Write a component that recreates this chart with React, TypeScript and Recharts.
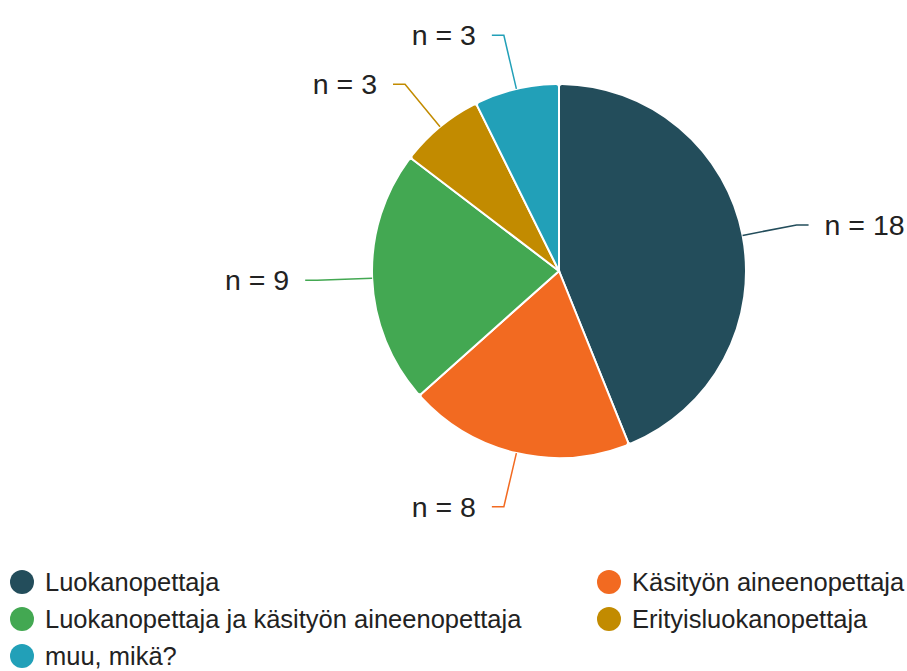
import { Legend, Pie, PieChart } from "recharts";

const categories = [
  "Luokanopettaja",
  "Käsityön aineenopettaja",
  "Luokanopettaja ja käsityön aineenopettaja",
  "Erityisluokanopettaja",
  "muu, mikä?",
];
const counts = [18, 8, 9, 3, 3];
const colors = ["#234d5b", "#f26a21", "#43a852", "#c28b00", "#22a0b8"];

const data = categories.map((name, i) => ({
  name,
  value: counts[i],
  fill: colors[i],
}));

const RAD = Math.PI / 180;

function renderLabel(props: any) {
  const { cx, cy, midAngle, outerRadius, value, index } = props;
  const cos = Math.cos(-midAngle * RAD);
  const sin = Math.sin(-midAngle * RAD);
  const sx = cx + outerRadius * cos;
  const sy = cy + outerRadius * sin;
  const mx = cx + (outerRadius + 55) * cos;
  const my = cy + (outerRadius + 55) * sin;
  const dir = cos >= 0 ? 1 : -1;
  const ex = mx + dir * 12;
  return (
    <g key={`lbl-${index}`}>
      <polyline
        points={`${sx},${sy} ${mx},${my} ${ex},${my}`}
        fill="none"
        stroke={colors[index]}
        strokeWidth={1.5}
      />
      <text
        x={ex + dir * 16}
        y={my}
        textAnchor={dir > 0 ? "start" : "end"}
        dominantBaseline="central"
        fill="#222"
        fontSize={28.5}
      >
        {`n = ${value}`}
      </text>
    </g>
  );
}

function renderLegend() {
  return (
    <div
      style={{
        display: "grid",
        gridTemplateColumns: "587px 320px",
        rowGap: 6,
        fontFamily: "'Liberation Sans', Arial, sans-serif",
        fontSize: 25.5,
        lineHeight: "30px",
        color: "#222",
      }}
    >
      {categories.map((name, i) => (
        <div key={name} style={{ display: "flex", alignItems: "center", height: 31 }}>
          <span
            style={{
              display: "inline-block",
              width: 24,
              height: 24,
              borderRadius: 12,
              background: colors[i],
              marginRight: 11,
            }}
          />
          {name}
        </div>
      ))}
    </div>
  );
}

export default function App() {
  return (
    <div
      style={{
        position: "absolute",
        left: 0,
        top: 0,
        width: 907,
        height: 671,
        background: "#fff",
        fontFamily: "'Liberation Sans', Arial, sans-serif",
      }}
    >
      <PieChart width={907} height={671} margin={{ top: 0, right: 0, bottom: 0, left: 0 }}>
        <Pie
          data={data}
          dataKey="value"
          nameKey="name"
          cx={559}
          cy={271}
          outerRadius={187}
          startAngle={90}
          endAngle={-270}
          stroke="#fff"
          strokeWidth={2}
          cornerRadius={3}
          label={renderLabel}
          labelLine={false}
          isAnimationActive={false}
        />
        <Legend
          content={renderLegend}
          wrapperStyle={{ position: "absolute", left: 10, top: 566, width: 897 }}
        />
      </PieChart>
    </div>
  );
}
